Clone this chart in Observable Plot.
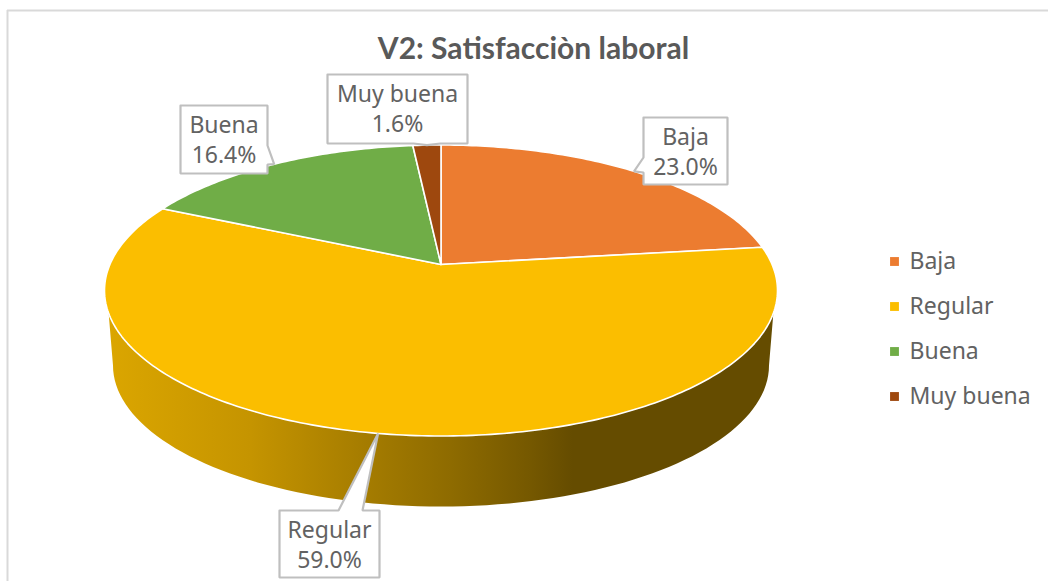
<!DOCTYPE html>
<html>
<head>
<meta charset="utf-8">
<script src="https://cdn.jsdelivr.net/npm/d3@7"></script>
<script src="https://cdn.jsdelivr.net/npm/@observablehq/plot@0.6"></script>
<style>
html,body{margin:0;padding:0;background:#fff;overflow:hidden}
svg{display:block}
</style>
</head>
<body>
<div id="chart"></div>
<script>
const chartTitle = "V2: Satisfacciòn laboral";
const categories = ["Baja", "Regular", "Buena", "Muy buena"];
const values = [23.0, 59.0, 16.4, 1.6];
const colors = ["#ec7c30", "#fbbe00", "#70ad47", "#9e480e"];

// Layout of the tilted pie, in page pixels
const W = 1048, H = 581;
const top3d = {cx: 440.5, cy: 290, rx: 336.5, ry: 145.5, k: 0.179};
const low3d = {cx: 440.5, cy: 365, rx: 328, ry: 141};
const wallStops = [[106,"#dba600"],[250,"#c59400"],[350,"#a97f00"],[450,"#8e6b00"],[530,"#755800"],[572,"#654c00"],[776,"#654c00"]];
const boxes = [
  {x0:643,y0:117,x1:727,y1:184,side:"left",a:157,b:172,textDy:-1},
  {x0:279,y0:510,x1:379,y1:577,side:"top",a:338,b:362,textDy:-1},
  {x0:180,y0:105,x1:267,y1:173,side:"right",a:145,b:164,textDy:-1},
  {x0:327,y0:74,x1:467,y1:143,side:"bottom",a:413,b:440,textDy:-2}
];
const legendTop = 261, legendStep = 45, legendSwatchX = 894, legendTextX = 909;

const total = d3.sum(values);
const cum = d3.cumsum(values);
// A share of the circle -> its point on the rim (or scaled toward the centre) under the perspective tilt
function project(f, r = 1) {
  const a = 2 * Math.PI * f, X = r * Math.sin(a), Y = r * Math.cos(a), k = top3d.k;
  const d = 1 + k * Y;
  return [top3d.cx + top3d.rx * X * Math.sqrt(1 - k * k) / d, top3d.cy - top3d.ry * (Y + k) / d];
}
const wedgePts = categories.flatMap((name, i) => {
  const f0 = (cum[i] - values[i]) / total, f1 = cum[i] / total;
  const n = Math.max(4, Math.round(values[i] * 4));
  const pts = [project(f0, 0)];
  for (let j = 0; j <= n; ++j) pts.push(project(f0 + (f1 - f0) * j / n));
  pts.push(project(f0, 0));
  return pts.map(([x, y]) => ({name, x, y}));
});
const ell = (e, t) => [e.cx + e.rx * Math.sin(t), e.cy - e.ry * Math.cos(t)];
const wallPts = [];
for (let t = 99; t <= 261; t += 2) wallPts.push(ell(top3d, t * Math.PI / 180));
for (let t = 270; t >= 90; t -= 2) wallPts.push(ell(low3d, t * Math.PI / 180));
wallPts.push(wallPts[0]);

const tips = categories.map((_, i) => project((cum[i] - values[i] / 2) / total));
const calloutPts = categories.flatMap((name, i) => {
  const b = boxes[i], t = tips[i];
  const p = [[b.x0, b.y0]];
  if (b.side === "top") p.push([b.a, b.y0], t, [b.b, b.y0]);
  p.push([b.x1, b.y0]);
  if (b.side === "right") p.push([b.x1, b.a], t, [b.x1, b.b]);
  p.push([b.x1, b.y1]);
  if (b.side === "bottom") p.push([b.b, b.y1], t, [b.a, b.y1]);
  p.push([b.x0, b.y1]);
  if (b.side === "left") p.push([b.x0, b.b], t, [b.x0, b.a]);
  p.push(p[0]);
  return p.map(([x, y]) => ({name, x, y}));
});
const calloutLabels = categories.map((name, i) => ({
  x: (boxes[i].x0 + boxes[i].x1) / 2,
  y: (boxes[i].y0 + boxes[i].y1) / 2 + boxes[i].textDy,
  text: name + "\n" + d3.format(".1f")(values[i]) + "%"
}));
const legendRows = categories.map((name, i) => ({name, y: legendTop + legendStep * i}));

const defs = () => {
  const d = d3.create("svg:defs");
  const g = d.append("linearGradient").attr("id", "wall").attr("gradientUnits", "userSpaceOnUse")
    .attr("x1", wallStops[0][0]).attr("x2", wallStops[wallStops.length - 1][0]).attr("y1", 0).attr("y2", 0);
  const span = wallStops[wallStops.length - 1][0] - wallStops[0][0];
  for (const [x, c] of wallStops) g.append("stop").attr("offset", (x - wallStops[0][0]) / span).attr("stop-color", c);
  return d.node();
};

const textFont = "'Noto Sans', 'Open Sans', sans-serif";
const chart = Plot.plot({
  width: W, height: H, margin: 0,
  x: {domain: [0, W], range: [0, W], axis: null},
  y: {domain: [0, H], range: [0, H], axis: null},
  color: {domain: categories, range: colors},
  style: {background: "#fff"},
  marks: [
    defs,
    Plot.ruleX([7], {y1: 10, y2: H, stroke: "#d9d9d9", strokeWidth: 2}),
    Plot.ruleY([10], {x1: 7, x2: W, stroke: "#d9d9d9", strokeWidth: 2}),
    Plot.line(wallPts, {x: d => d[0], y: d => d[1], fill: "url(#wall)", stroke: "none", curve: "linear"}),
    Plot.line(wedgePts, {x: "x", y: "y", z: "name", fill: "name", stroke: "#fff", strokeWidth: 1.6, curve: "linear", strokeLinejoin: "round"}),
    Plot.line(calloutPts, {x: "x", y: "y", z: "name", fill: "#fff", stroke: "#bfbfbf", strokeWidth: 2.2, curve: "linear", strokeLinejoin: "miter"}),
    Plot.text(calloutLabels, {x: "x", y: "y", text: "text", fill: "#626262", fontSize: 23, fontFamily: textFont, lineHeight: 1.3, lineAnchor: "middle"}),
    Plot.text([chartTitle], {x: () => 533, y: () => 49, text: d => d, fill: "#595959", fontSize: 30, fontWeight: 700, fontFamily: "Lato, 'Open Sans', sans-serif"}),
    Plot.dot(legendRows, {x: () => legendSwatchX, y: "y", symbol: "square", r: 5, fill: "name", stroke: "none"}),
    Plot.text(legendRows, {x: () => legendTextX, y: "y", text: "name", textAnchor: "start", fill: "#626262", fontSize: 23, fontFamily: textFont})
  ]
});
document.getElementById("chart").append(chart);
</script>
</body>
</html>
